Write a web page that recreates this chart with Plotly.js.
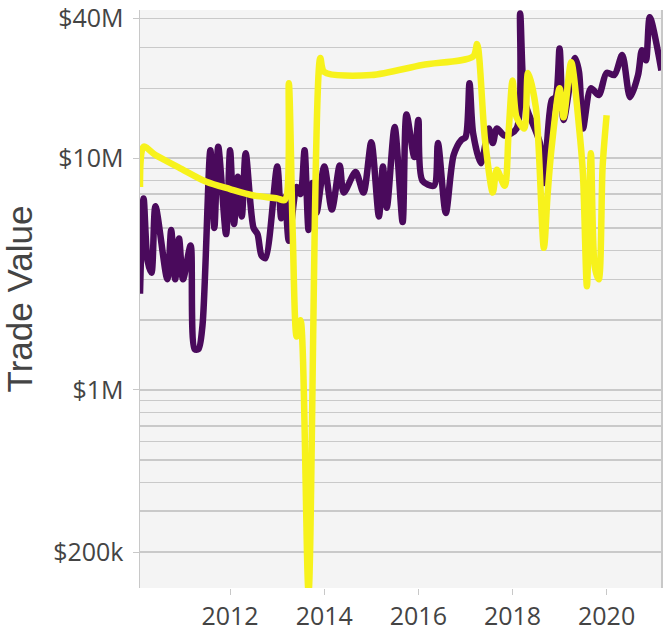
<!DOCTYPE html>
<html>
<head>
<meta charset="utf-8">
<script src="https://cdn.plot.ly/plotly-3.0.1.min.js"></script>
<style>
  html, body { margin: 0; padding: 0; background: #fff; }
  #chart { width: 663px; height: 633px; }
</style>
</head>
<body>
<div id="chart"></div>
<script>
// purple series (monthly trade value, millions USD)
const purpleDates = [
  "2010-02", "2010-03", "2010-04", "2010-05", "2010-06", "2010-09", "2010-10", "2010-11",
  "2010-12", "2011-01", "2011-03", "2011-04", "2011-05", "2011-06", "2011-08", "2011-09",
  "2011-10", "2011-12", "2012-01", "2012-02", "2012-03", "2012-04", "2012-05", "2012-07",
  "2012-08", "2012-09", "2012-10", "2013-01", "2013-02", "2013-03", "2013-04", "2013-06",
  "2013-07", "2013-08", "2013-09", "2013-10", "2013-11", "2014-01", "2014-03", "2014-05",
  "2014-06", "2014-09", "2014-11", "2015-01", "2015-03", "2015-04", "2015-05", "2015-07",
  "2015-09", "2015-10", "2015-12", "2016-01", "2016-02", "2016-05", "2016-06", "2016-08",
  "2016-10", "2016-12", "2017-01", "2017-02", "2017-03", "2017-05", "2017-07", "2017-08",
  "2017-09", "2017-11", "2018-02", "2018-03", "2018-04", "2018-05", "2018-08", "2018-09",
  "2018-11", "2018-12", "2019-01", "2019-02", "2019-05", "2019-06", "2019-07", "2019-09",
  "2019-11", "2020-01", "2020-03", "2020-05", "2020-07", "2020-09", "2020-10", "2020-11",
  "2020-12", "2021-03"
];
const purpleValues = [
  2.6, 6.7, 3.6, 3.2, 6.2, 3.0, 4.9, 3.0,
  4.5, 3.0, 4.2, 1.5, 1.5, 1.9, 10.8, 5.0,
  11.2, 4.7, 10.8, 5.2, 8.3, 5.6, 10.5, 5.0,
  4.7, 3.8, 3.7, 9.2, 5.5, 6.8, 4.4, 7.5,
  7.0, 10.8, 4.9, 7.8, 5.8, 9.2, 6.0, 9.3,
  7.1, 8.7, 7.1, 11.7, 5.6, 9.2, 6.1, 13.6,
  5.3, 15.4, 10.1, 14.6, 8.0, 7.6, 11.6, 5.8,
  10.3, 12.0, 12.3, 21, 12.8, 9.5, 13.4, 11.6,
  13.4, 12.5, 13.4, 42, 18, 15.8, 11.6, 7.8,
  17.8, 18.3, 29.7, 14.6, 27, 23.5, 13.4, 20,
  18.7, 23.3, 22.8, 27.8, 18.3, 22.8, 29.2, 26.4,
  40.5, 23.9
];

// yellow series
const yellowDates = [
  "2010-02", "2010-03", "2010-06", "2010-12", "2011-07", "2012-01", "2012-07", "2013-01",
  "2013-03", "2013-04", "2013-05", "2013-06", "2013-07", "2013-09", "2013-12", "2014-01",
  "2015-01", "2016-02", "2017-03", "2017-04", "2017-06", "2017-08", "2017-09", "2017-11",
  "2017-12", "2018-01", "2018-02", "2018-04", "2018-05", "2018-07", "2018-09", "2018-10",
  "2018-11", "2019-01", "2019-02", "2019-04", "2019-06", "2019-07", "2019-08", "2019-09",
  "2019-10", "2019-11", "2019-12", "2020-01"
];
const yellowValues = [
  7.5, 11.2, 10.3, 9.1, 7.9, 7.35, 6.9, 6.7,
  6.6, 21, 4.8, 1.7, 2.0, 0.135, 27, 23.5,
  22.8, 25.2, 27.4, 31, 12.0, 7.1, 8.9, 7.6,
  12.8, 21.6, 15, 13.4, 23.3, 16.5, 4.1, 7.1,
  11.2, 20, 15, 25.9, 13.6, 8.6, 2.8, 10.5,
  3.4, 3.0, 9.2, 15.3
];

const yTickVals = [2e5, 1e6, 1e7, 4e7];
const yTickText = ["$200k", "$1M", "$10M", "$40M"];

// minor grid at every digit of each decade
const minorVals = [];
for (let p = 5; p <= 7; p++) {
  for (let d = 1; d <= 9; d++) minorVals.push(d * Math.pow(10, p));
}

const toDollars = v => v.map(m => m * 1e6);
const gridColor = "#c9c9c9";
const tickFont = { family: "Open Sans", size: 25, color: "#444" };

const traces = [
  {
    x: purpleDates,
    y: toDollars(purpleValues),
    mode: "lines",
    line: { color: "#4a0a5c", width: 6.5, shape: "spline", smoothing: 0.8 },
    hoverinfo: "skip"
  },
  {
    x: yellowDates,
    y: toDollars(yellowValues),
    mode: "lines",
    line: { color: "#f7f21c", width: 6.5, shape: "spline", smoothing: 0.8 },
    hoverinfo: "skip"
  }
];

const layout = {
  width: 663,
  height: 633,
  margin: { l: 140, r: 2, t: 10, b: 45 },
  paper_bgcolor: "#ffffff",
  plot_bgcolor: "#f4f4f4",
  showlegend: false,
  xaxis: {
    type: "date",
    range: ["2010-02-01", "2021-02-26"],
    tickmode: "linear",
    tick0: "2012-01-01",
    dtick: "M24",
    tickformat: "%Y",
    ticks: "outside",
    ticklen: 6,
    tickcolor: "#c8c8c8",
    showgrid: false,
    zeroline: false,
    showline: false,
    tickfont: tickFont
  },
  yaxis: {
    type: "log",
    range: [Math.log10(1.4e5), Math.log10(4.35e7)],
    tickmode: "array",
    tickvals: yTickVals,
    ticktext: yTickText,
    ticks: "outside",
    ticklen: 6,
    tickcolor: "#c8c8c8",
    ticklabelstandoff: 4,
    showgrid: true,
    gridcolor: gridColor,
    gridwidth: 1.5,
    minor: { tickmode: "array", tickvals: minorVals, showgrid: true, gridcolor: gridColor, gridwidth: 1.5, ticks: "" },
    showline: true,
    linecolor: "#c8c8c8",
    linewidth: 1.5,
    mirror: true,
    zeroline: false,
    tickfont: tickFont,
    title: { text: "Trade Value", font: { family: "Liberation Sans", size: 35, color: "#444" }, standoff: 14 }
  }
};

Plotly.newPlot("chart", traces, layout, { displayModeBar: false, staticPlot: true });
</script>
</body>
</html>
